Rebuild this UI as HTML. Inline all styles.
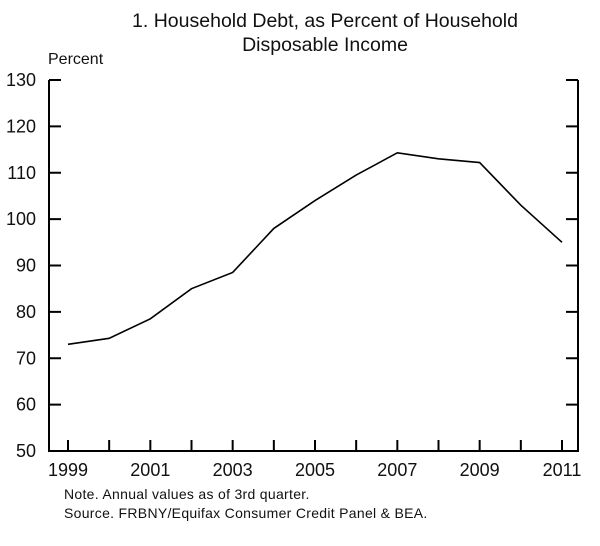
<!DOCTYPE html>
<html><head><meta charset="utf-8"><style>
body{margin:0;background:#fff;}
svg text{font-family:"Liberation Sans",Arial,sans-serif;fill:#111;}
</style></head><body>
<svg width="600" height="541" viewBox="0 0 600 541">
<text x="325" y="27" font-size="19.5" text-anchor="middle">1. Household Debt, as Percent of Household</text>
<text x="325" y="51" font-size="19.5" text-anchor="middle">Disposable Income</text>
<text x="48" y="64" font-size="16">Percent</text>
<g id="axes"></g>
<text x="64" y="499" font-size="14" letter-spacing="0.3">Note. Annual values as of 3rd quarter.</text>
<text x="64" y="518" font-size="14" letter-spacing="0.3">Source. FRBNY/Equifax Consumer Credit Panel &amp; BEA.</text>
</svg>
<script>
const years=[1999,2000,2001,2002,2003,2004,2005,2006,2007,2008,2009,2010,2011];
const values=[73,74.3,78.5,85,88.5,98,104,109.5,114.3,113,112.2,103,95];
const yTicks=[50,60,70,80,90,100,110,120,130];
const xLabels=[1999,2001,2003,2005,2007,2009,2011];
const L=49,R=578,T=80,B=451;
const x=y=>68+(y-1999)*(562-68)/12;
const yS=v=>B-(v-50)*(B-T)/80;
const ns='http://www.w3.org/2000/svg';
const g=document.getElementById('axes');
function mk(tag,attrs){const e=document.createElementNS(ns,tag);for(const k in attrs)e.setAttribute(k,attrs[k]);g.appendChild(e);return e;}
let e=mk('path',{d:`M${L},${T} V${B} H${R} V${T}`,fill:'none',stroke:'#000','stroke-width':2});


yTicks.forEach(v=>{
  const yy=yS(v);
  let t=mk('path',{d:`M${L},${yy} h12 M${R},${yy} h-12`,stroke:'#000','stroke-width':2});
  
  
  let lb=mk('text',{x:36,y:yy+6,'font-size':18,'text-anchor':'end'});
  lb.textContent=v;
  
  
});
years.forEach(yr=>{
  let t=mk('path',{d:`M${x(yr)},${B} v-11`,stroke:'#000','stroke-width':2});
  
  
});
xLabels.forEach(yr=>{
  let lb=mk('text',{x:x(yr),y:B+25,'font-size':18,'text-anchor':'middle'});
  lb.textContent=yr;
  
  
});
let line=mk('polyline',{points:years.map((yr,i)=>x(yr)+','+yS(values[i])).join(' '),fill:'none',stroke:'#000','stroke-width':1.6});


</script>
</body></html>
